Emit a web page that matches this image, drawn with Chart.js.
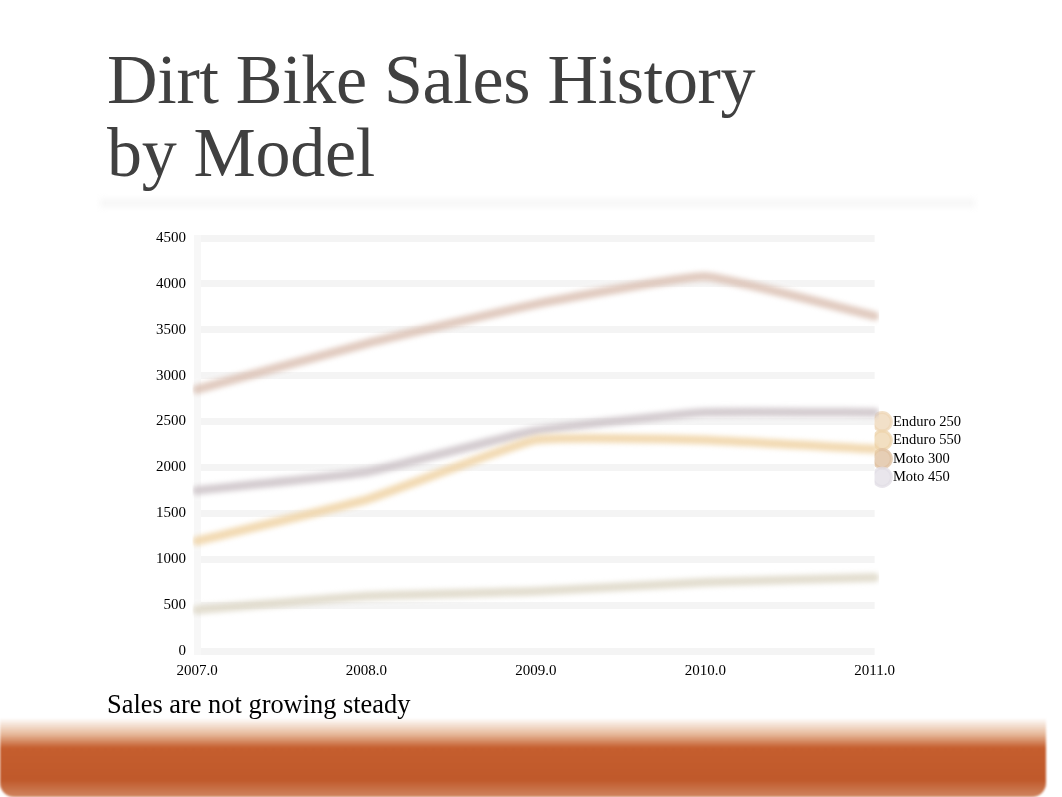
<!DOCTYPE html>
<html>
<head>
<meta charset="utf-8">
<script src="https://cdn.jsdelivr.net/npm/chart.js@4.4.0/dist/chart.umd.min.js"></script>
<style>
  html, body { margin: 0; padding: 0; background: #fff; }
  body { width: 1062px; height: 797px; position: relative; overflow: hidden; font-family: "Liberation Serif", "DejaVu Serif", serif; }
  #title { position: absolute; left: 107px; top: 43px; margin: 0; font-weight: normal; font-size: 70px; line-height: 73px; color: #404040; letter-spacing: -0.3px; }
  #sep { position: absolute; left: 100px; top: 199px; width: 875px; height: 8px; background: #f6f6f6; filter: blur(3px); }
  #caption { position: absolute; left: 107px; top: 688px; font-size: 26.4px; color: #000; line-height: 32px; }
  #band { position: absolute; left: 0; top: 718px; width: 1046px; height: 79px; border-radius: 0 0 14px 14px;
          background: linear-gradient(to bottom, rgba(192,89,43,0) 0px, rgba(215,140,90,0.6) 16px, #c55e2e 30px, #c0592b 62px, #cf8660 79px); filter: blur(1px); }
  #c { position: absolute; left: 140px; top: 218px; }
</style>
</head>
<body>
<h1 id="title">Dirt Bike Sales History<br>by Model</h1>
<div id="sep"></div>
<canvas id="c" width="831" height="479"></canvas>
<div id="caption">Sales are not growing steady</div>
<div id="band"></div>
<script>
const years = ["2007.0", "2008.0", "2009.0", "2010.0", "2011.0"];
const seriesNames = ["Enduro 250", "Enduro 550", "Moto 300", "Moto 450"];
const enduro250 = [1200, 1650, 2300, 2300, 2200];
const enduro550 = [450, 600, 650, 750, 800];
const moto300 = [2850, 3350, 3780, 4080, 3650];
const moto450 = [1750, 1950, 2400, 2600, 2600];
const yTicksMax = 4500;
const yStep = 500;

const lineColors = ["rgba(240,212,166,0.85)", "rgba(222,216,200,0.85)", "rgba(218,190,176,0.8)", "rgba(204,195,200,0.85)"];
const markerColors = ["rgba(238,214,182,0.75)", "rgba(238,212,172,0.75)", "rgba(224,194,162,0.8)", "rgba(226,222,230,0.75)"];
const seriesData = [enduro250, enduro550, moto300, moto450];

const blurPlugin = {
  id: 'blurLines',
  beforeDatasetsDraw(chart) { chart.ctx.save(); chart.ctx.filter = 'blur(2.5px)'; },
  afterDatasetsDraw(chart) { chart.ctx.restore(); }
};

new Chart(document.getElementById('c'), {
  type: 'line',
  data: {
    labels: years,
    datasets: seriesNames.map((n, i) => ({
      label: n,
      data: seriesData[i],
      borderColor: lineColors[i],
      backgroundColor: markerColors[i],
      borderWidth: 9,
      pointRadius: 0,
      tension: 0.12,
      borderCapStyle: 'round',
      borderJoinStyle: 'round',
      fill: false
    }))
  },
  options: {
    responsive: false,
    animation: false,
    devicePixelRatio: 1,
    layout: { padding: { top: 4, right: 0, left: 0, bottom: 20 } },
    plugins: {
      tooltip: { enabled: false },
      legend: {
        position: 'right',
        align: 'center',
        labels: {
          usePointStyle: true,
          pointStyle: 'circle',
          boxWidth: 7,
          boxHeight: 13,
          padding: 4,
          color: '#000',
          font: { family: 'Liberation Serif', size: 14.5 },
          generateLabels(chart) {
            const items = Chart.defaults.plugins.legend.labels.generateLabels(chart);
            items.forEach(it => { it.lineWidth = 3; it.strokeStyle = markerColors[it.datasetIndex]; });
            return items;
          }
        }
      }
    },
    scales: {
      x: {
        type: 'category',
        offset: false,
        grid: { display: false, drawTicks: false },
        border: { display: false },
        ticks: { color: '#000', padding: 11, maxRotation: 0, font: { family: 'Liberation Serif', size: 15 } },
        afterFit(s) { s.height = 26; }
      },
      y: {
        min: 0,
        max: yTicksMax,
        ticks: { stepSize: yStep, color: '#000', padding: 11, font: { family: 'Liberation Serif', size: 15 }, callback: v => String(v) },
        grid: { color: 'rgba(0,0,0,0.042)', lineWidth: 7, drawTicks: false },
        border: { display: true, color: 'rgba(0,0,0,0.03)', width: 7 },
        afterFit(s) { s.width = 57; }
      }
    }
  },
  plugins: [blurPlugin]
});
</script>
</body>
</html>
